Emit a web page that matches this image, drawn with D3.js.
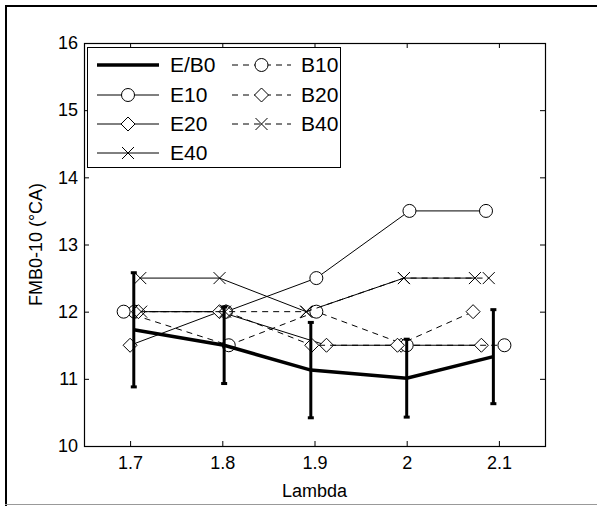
<!DOCTYPE html>
<html>
<head>
<meta charset="utf-8">
<script src="https://cdn.jsdelivr.net/npm/d3@7"></script>
<style>
  body { margin: 0; background: #fff; }
  text { font-family: Arial, "Liberation Sans", sans-serif; fill: #000; }
</style>
</head>
<body>
<div id="chart"></div>
<script>
// FMB0-10 vs Lambda

// data
const xTicks = [1.7, 1.8, 1.9, 2.0, 2.1]
const yTicks = [10, 11, 12, 13, 14, 15, 16]

const base = [1.704, 1.802, 1.896, 2.0, 2.094]
const baseVal = [11.73, 11.50, 11.13, 11.01, 11.33]
const baseErr = [0.85, 0.57, 0.71, 0.58, 0.70]

const e10X = [1.705, 1.804, 1.902, 2.003, 2.086]
const e10Y = [12, 12, 12.5, 13.5, 13.5]
const e20X = [1.700, 1.797, 1.913, 1.994, 2.081]
const e20Y = [11.5, 12, 11.5, 11.5, 11.5]
const e40X = [1.711, 1.797, 1.891, 1.997, 2.074]
const e40Y = [12.5, 12.5, 12, 12.5, 12.5]
const b10X = [1.693, 1.807, 1.902, 2.0, 2.106]
const b10Y = [12, 11.5, 12, 11.5, 11.5]
const b20X = [1.709, 1.804, 1.897, 1.990, 2.072]
const b20Y = [12, 12, 11.5, 11.5, 12]
const b40X = [1.712, 1.803, 1.891, 1.997, 2.089]
const b40Y = [12, 12, 12, 12.5, 12.5]

const series = [
  { name: "E10", xs: e10X, ys: e10Y, mark: "circle", dash: null },
  { name: "E20", xs: e20X, ys: e20Y, mark: "diamond", dash: null },
  { name: "E40", xs: e40X, ys: e40Y, mark: "cross", dash: null },
  { name: "B10", xs: b10X, ys: b10Y, mark: "circle", dash: "6,5" },
  { name: "B20", xs: b20X, ys: b20Y, mark: "diamond", dash: "6,5" },
  { name: "B40", xs: b40X, ys: b40Y, mark: "cross", dash: "6,5" }
]

let width = 597, height = 506
let m = { left: 84, right: 545, top: 43, bottom: 446 }

let svg = d3.select("#chart").append("svg")
  .attr("width", width)
  .attr("height", height)

// khung ngoài
svg.append("line").attr("x1", 5).attr("y1", 6).attr("x2", 597).attr("y2", 6)
  .attr("stroke", "#000").attr("stroke-width", 2)
svg.append("line").attr("x1", 6).attr("y1", 5).attr("x2", 6).attr("y2", 506)
  .attr("stroke", "#000").attr("stroke-width", 2)
svg.append("line").attr("x1", 5).attr("y1", 504.5).attr("x2", 597).attr("y2", 504.5)
  .attr("stroke", "#999").attr("stroke-width", 1)

let x = d3.scaleLinear().domain([1.65, 2.15]).range([m.left, m.right])
let y = d3.scaleLinear().domain([10, 16]).range([m.bottom, m.top])

// axes
let axisB = d3.axisBottom(x).tickValues(xTicks).tickSize(-5).tickPadding(10)
  .tickFormat(d => d3.format("~g")(d))
let axisT = d3.axisTop(x).tickValues(xTicks).tickSize(-5).tickFormat("")
let axisL = d3.axisLeft(y).tickValues(yTicks).tickSize(-5).tickPadding(6)
  .tickFormat(d3.format("d"))
let axisR = d3.axisRight(y).tickValues(yTicks).tickSize(-5).tickFormat("")

function style(g) {
  g.select(".domain").remove()
  g.selectAll("line").attr("stroke", "#000")
  g.selectAll("text").attr("font-size", "18px").attr("font-family", "Arial, 'Liberation Sans', sans-serif")
}
svg.append("g").attr("transform", `translate(0,${m.bottom})`).call(axisB).call(style)
svg.append("g").attr("transform", `translate(0,${m.top})`).call(axisT).call(style)
svg.append("g").attr("transform", `translate(${m.left},0)`).call(axisL).call(style)
svg.append("g").attr("transform", `translate(${m.right},0)`).call(axisR).call(style)

svg.append("rect")
  .attr("x", m.left + 0.5).attr("y", m.top + 0.5)
  .attr("width", m.right - m.left).attr("height", m.bottom - m.top)
  .attr("fill", "none").attr("stroke", "#000").attr("stroke-width", 1.2)

svg.append("text").attr("x", (m.left + m.right) / 2).attr("y", 497)
  .attr("text-anchor", "middle").attr("font-size", "18px").text("Lambda")
svg.append("text").attr("transform", `translate(42,${(m.top + m.bottom) / 2}) rotate(-90)`)
  .attr("text-anchor", "middle").attr("font-size", "18px").text("FMB0-10 (°CA)")

// markers
function drawMark(g, kind, cx, cy) {
  if (kind === "circle") {
    g.append("circle").attr("cx", cx).attr("cy", cy).attr("r", 6.5)
      .attr("fill", "#fff").attr("stroke", "#000").attr("stroke-width", 1)
  } else if (kind === "diamond") {
    g.append("path").attr("d", `M${cx},${cy - 7}L${cx + 7},${cy}L${cx},${cy + 7}L${cx - 7},${cy}Z`)
      .attr("fill", "#fff").attr("stroke", "#000").attr("stroke-width", 1)
  } else {
    g.append("path").attr("d", `M${cx - 6},${cy - 6}L${cx + 6},${cy + 6}M${cx - 6},${cy + 6}L${cx + 6},${cy - 6}`)
      .attr("stroke", "#000").attr("stroke-width", 1)
  }
}

let plot = svg.append("g")
let line = d3.line().x(d => x(d[0])).y(d => y(d[1]))

series.forEach(s => {
  let pts = s.xs.map((v, i) => [v, s.ys[i]])
  plot.append("path").datum(pts).attr("d", line)
    .attr("fill", "none").attr("stroke", "#000").attr("stroke-width", 1)
    .attr("stroke-dasharray", s.dash)
  pts.forEach(p => drawMark(plot, s.mark, x(p[0]), y(p[1])))
})

// E/B0 thick line with error bars
let basePts = base.map((v, i) => [v, baseVal[i]])
plot.append("path").datum(basePts).attr("d", line)
  .attr("fill", "none").attr("stroke", "#000").attr("stroke-width", 3.5)
plot.selectAll(".err").data(basePts).enter().append("line")
  .attr("class", "err")
  .attr("x1", d => x(d[0])).attr("x2", d => x(d[0]))
  .attr("y1", (d, i) => y(d[1] + baseErr[i])).attr("y2", (d, i) => y(d[1] - baseErr[i]))
  .attr("stroke", "#000").attr("stroke-width", 3)
plot.selectAll(".cap").data(basePts.flatMap((d, i) => [[d[0], d[1] + baseErr[i]], [d[0], d[1] - baseErr[i]]]))
  .enter().append("line")
  .attr("x1", d => x(d[0]) - 3).attr("x2", d => x(d[0]) + 3)
  .attr("y1", d => y(d[1])).attr("y2", d => y(d[1]))
  .attr("stroke", "#000").attr("stroke-width", 3)

// legend
let lg = svg.append("g")
lg.append("rect").attr("x", 87.5).attr("y", 47.5).attr("width", 253).attr("height", 120)
  .attr("fill", "#fff").attr("stroke", "#000").attr("stroke-width", 1)

const legendLeft = [
  { name: "E/B0", mark: null, dash: null, w: 3.5 },
  { name: "E10", mark: "circle", dash: null, w: 1 },
  { name: "E20", mark: "diamond", dash: null, w: 1 },
  { name: "E40", mark: "cross", dash: null, w: 1 }
]
const legendRight = [
  { name: "B10", mark: "circle", dash: "6,5", w: 1 },
  { name: "B20", mark: "diamond", dash: "6,5", w: 1 },
  { name: "B40", mark: "cross", dash: "6,5", w: 1 }
]
const rowY = [65, 95, 124, 153]

function legendCol(items, x0, x1, tx) {
  items.forEach((it, i) => {
    let yy = rowY[i]
    lg.append("line").attr("x1", x0).attr("x2", x1).attr("y1", yy).attr("y2", yy)
      .attr("stroke", "#000").attr("stroke-width", it.w).attr("stroke-dasharray", it.dash)
    if (it.mark) drawMark(lg, it.mark, (x0 + x1) / 2, yy)
    lg.append("text").attr("x", tx).attr("y", yy).attr("dy", "0.35em")
      .attr("font-size", "21px").text(it.name)
  })
}
legendCol(legendLeft, 97, 159, 170)
legendCol(legendRight, 232, 291, 301)
</script>
</body>
</html>
